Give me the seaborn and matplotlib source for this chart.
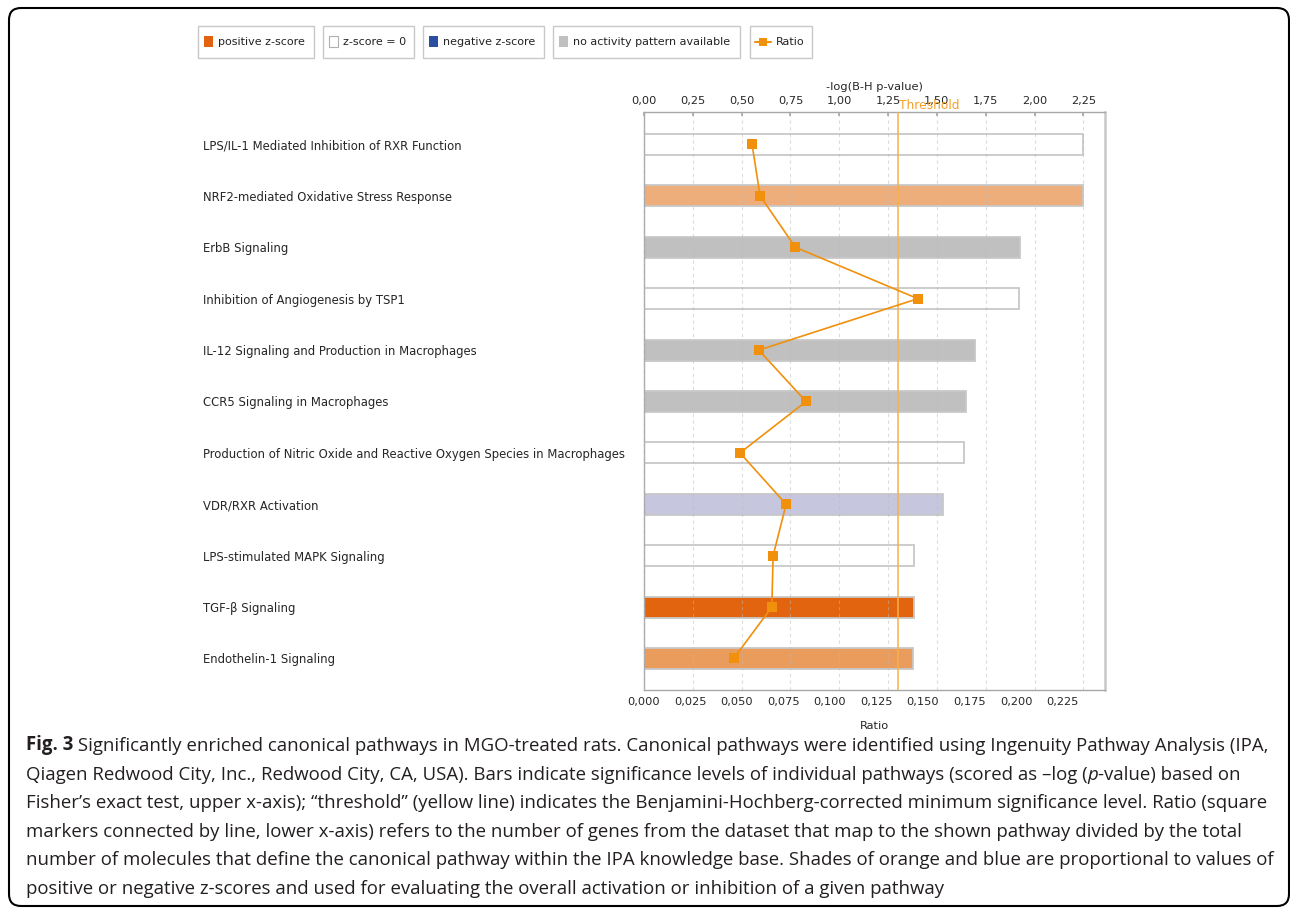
import numpy as np
import pandas as pd
import matplotlib
matplotlib.use("Agg")
import matplotlib.pyplot as plt
import seaborn as sns
from matplotlib.patches import Rectangle, FancyBboxPatch
from matplotlib.lines import Line2D
from matplotlib.ticker import FuncFormatter, MultipleLocator

# --- data ---
pathways = [
    "LPS/IL-1 Mediated Inhibition of RXR Function",
    "NRF2-mediated Oxidative Stress Response",
    "ErbB Signaling",
    "Inhibition of Angiogenesis by TSP1",
    "IL-12 Signaling and Production in Macrophages",
    "CCR5 Signaling in Macrophages",
    "Production of Nitric Oxide and Reactive Oxygen Species in Macrophages",
    "VDR/RXR Activation",
    "LPS-stimulated MAPK Signaling",
    "TGF-β Signaling",
    "Endothelin-1 Signaling",
]
neg_log_p = [2.247, 2.247, 1.926, 1.922, 1.695, 1.647, 1.640, 1.533, 1.382, 1.382, 1.376]
ratio = [0.0581, 0.0624, 0.0814, 0.1472, 0.0617, 0.0871, 0.0516, 0.0764, 0.0694, 0.0687, 0.0482]
bar_colors = ["#FFFFFF", "#EDAE7B", "#C0C0C0", "#FFFFFF", "#C0C0C0", "#C0C0C0",
              "#FFFFFF", "#C6C6DF", "#FFFFFF", "#E2640F", "#EA9C5D"]
threshold = 1.30

legend_labels = ["positive z-score", "z-score = 0", "negative z-score",
                 "no activity pattern available", "Ratio"]
legend_colors = ["#E2620E", "#FFFFFF", "#2B4EA2", "#C0C0C0", "#F0900C"]

caption = [
    [("Fig. 3", "bold", "normal"),
     (" Significantly enriched canonical pathways in MGO-treated rats. Canonical pathways were identified using Ingenuity Pathway Analysis (IPA,", "normal", "normal")],
    [("Qiagen Redwood City, Inc., Redwood City, CA, USA). Bars indicate significance levels of individual pathways (scored as \u2013log (", "normal", "normal"),
     ("p", "normal", "italic"), ("-value) based on", "normal", "normal")],
    [("Fisher\u2019s exact test, upper x-axis); \u201cthreshold\u201d (yellow line) indicates the Benjamini-Hochberg-corrected minimum significance level. Ratio (square", "normal", "normal")],
    [("markers connected by line, lower x-axis) refers to the number of genes from the dataset that map to the shown pathway divided by the total", "normal", "normal")],
    [("number of molecules that define the canonical pathway within the IPA knowledge base. Shades of orange and blue are proportional to values of", "normal", "normal")],
    [("positive or negative z-scores and used for evaluating the overall activation or inhibition of a given pathway", "normal", "normal")],
]

W, H = 1290, 908
sns.set_theme(style="white")
plt.rcParams['font.family'] = ['DejaVu Sans']

ORANGE = "#F0900C"
GRID = "#BBBBBB"
SPINE = "#A8A8A8"
FS = 8.2

df = pd.DataFrame({"pathway": pathways, "neglogp": neg_log_p,
                   "ratio": ratio, "pos": np.arange(len(pathways))})

fig = plt.figure(figsize=(W / 100, H / 100), dpi=100)
rect = [644 / W, 1 - 690 / H, (1105 - 644) / W, (690 - 112) / H]
ax = fig.add_axes(rect)

sns.barplot(data=df, x="neglogp", y="pathway", hue="pathway",
            palette=dict(zip(pathways, bar_colors)), legend=False, saturation=1,
            width=0.41, edgecolor="#C8C8C8", linewidth=1.3, orient="h", ax=ax)

ylim = (10.613, -0.632)
ax.set_xlim(0, 2.361)
ax.set_ylim(*ylim)
ax.xaxis.tick_top()
ax.xaxis.set_label_position("top")
ax.xaxis.set_major_locator(MultipleLocator(0.25))
ax.xaxis.set_major_formatter(FuncFormatter(lambda v, p: f"{v:.2f}".replace(".", ",")))
ax.set_xlabel("-log(B-H p-value)", fontsize=FS, labelpad=5)
ax.set_ylabel("")
ax.tick_params(axis="x", labelsize=FS, direction="in", length=3, color=SPINE, pad=4)
ax.tick_params(axis="y", length=0, pad=317.5, labelsize=8.4)
for lbl in ax.get_yticklabels():
    lbl.set_horizontalalignment("left")
ax.grid(axis="x", color=GRID, alpha=0.5, linestyle=(0, (3, 3)), linewidth=0.8)
ax.grid(axis="y", visible=False)
ax.set_axisbelow(False)
for s in ax.spines.values():
    s.set_color(SPINE)
    s.set_linewidth(1.0)
ax.spines["right"].set_color("#C8C8C8")
ax.spines["right"].set_linewidth(1.8)

# threshold line
ax.axvline(threshold, color="#F8B04A", linewidth=1.1, zorder=5)
ax.text(threshold + 0.005, 1.0, "Threshold", transform=ax.get_xaxis_transform(),
        color="#F5A02A", fontsize=8.8, ha="left", va="bottom")

# ratio line on its own axis (lower x-axis)
ax2 = fig.add_axes(rect, label="ratio")
ax2.patch.set_visible(False)
sns.lineplot(data=df, x="ratio", y="pos", sort=False, orient="y", ax=ax2,
             color=ORANGE, linewidth=1.2, marker="s", markersize=6.5,
             markeredgewidth=0)
ax2.set_xlim(0, 0.2478)
ax2.set_ylim(*ylim)
ax2.xaxis.set_major_locator(MultipleLocator(0.025))
ax2.xaxis.set_major_formatter(FuncFormatter(lambda v, p: f"{v:.3f}".replace(".", ",")))
ax2.set_yticks([])
ax2.set_ylabel("")
ax2.set_xlabel("Ratio", fontsize=FS, labelpad=10)
ax2.tick_params(axis="x", labelsize=FS, direction="out", length=3, color=SPINE, pad=2)
for s in ax2.spines.values():
    s.set_visible(False)

# legend boxes across the top
def px(x, y):
    return x / W, 1 - y / H

boxes = [(198, 314), (323, 414), (423, 544), (553, 740), (750, 812)]
btop, bbot = 26, 58
ymid = (btop + bbot) / 2
for (x0, x1), lab, col in zip(boxes, legend_labels, legend_colors):
    fig.add_artist(Rectangle((x0, H - bbot), x1 - x0, bbot - btop, transform=None,
                             fill=False, edgecolor="#C8C8C8", linewidth=1.0))
    if lab == "Ratio":
        fig.add_artist(Line2D([x0 + 5, x0 + 21], [H - ymid, H - ymid], transform=None,
                              color=col, linewidth=1.5))
        fig.add_artist(Rectangle((x0 + 9, H - ymid - 4), 8, 8, transform=None,
                                 facecolor=col, edgecolor="none"))
        tx = x0 + 26
    else:
        fig.add_artist(Rectangle((x0 + 6, H - ymid - 5), 9, 11, transform=None,
                                 facecolor=col, edgecolor="#B0B0B0" if col == "#FFFFFF" else "none",
                                 linewidth=0.8))
        tx = x0 + 20
    fig.text(*px(tx, ymid), lab, fontsize=8.0, ha="left", va="center", color="#222222")

# caption under the chart
cap_x, cap_y0, cap_dy = 26, 745, 28.6
for i, pieces in enumerate(caption):
    prev = None
    for txt, weight, style in pieces:
        kw = dict(fontsize=13.45, fontweight=weight, fontstyle=style,
                  family=["Open Sans", "DejaVu Sans"], color="#231F20", va="bottom", ha="left")
        if prev is None:
            prev = fig.text(*px(cap_x, cap_y0 + i * cap_dy + 10), txt, **kw)
        else:
            prev = ax.annotate(txt, xy=(1, 0), xycoords=prev, annotation_clip=False, **kw)

# rounded frame around the figure
fig.add_artist(FancyBboxPatch((9, 2), 1280, 898, boxstyle="round,pad=0,rounding_size=12",
                              transform=None, fill=False, edgecolor="black", linewidth=1.5))

fig.savefig("out.png", dpi=100)
